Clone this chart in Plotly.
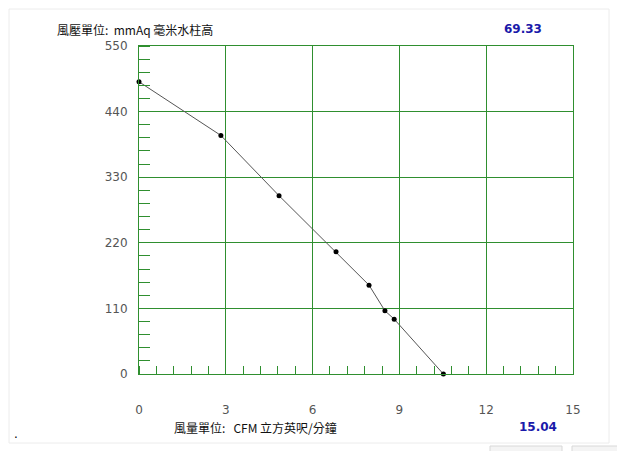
import plotly.graph_objects as go

# Data
flow_cfm = [0.0, 2.83, 4.84, 6.81, 7.95, 8.50, 8.82, 10.52]
pressure_mmaq = [490, 400, 299, 205, 149, 106, 92, 0]

x_ticks = [0, 3, 6, 9, 12, 15]
y_ticks = [0, 110, 220, 330, 440, 550]

y_title = "風壓單位:  mmAq 毫米水柱高"
x_title = "風量單位:   CFM 立方英呎/分鐘"
top_value = "69.33"
bottom_value = "15.04"

W, H = 625, 451
OFF = 8  # page body margin of the browser
# plot area in screen pixels: x 139..573, y 46..374
L, T = 139 - OFF, 46 - OFF
R = W - (573 - OFF)
B = H - (374 - OFF)
pw, ph = W - L - R, H - T - B

def px(x):
    return (x - OFF - L) / pw

def py(y):
    return (H - B - (y - OFF)) / ph

GREEN = "#2f8f2f"
cjk = "Noto Sans CJK TC"

fig = go.Figure()
fig.add_trace(go.Scatter(
    x=flow_cfm, y=pressure_mmaq, mode="lines+markers",
    line=dict(color="#555555", width=1),
    marker=dict(color="black", size=5),
    hoverinfo="skip", showlegend=False, cliponaxis=False,
))

fig.update_xaxes(
    range=[0, 15], tickvals=x_ticks, ticks="", showgrid=True,
    gridcolor=GREEN, gridwidth=1, showline=True, linecolor=GREEN,
    linewidth=1, mirror=True, zeroline=False,
    tickfont=dict(family="DejaVu Sans", size=12, color="#555555"),
    ticklabelstandoff=25,
    minor=dict(dtick=0.6, ticks="inside", ticklen=8, tickcolor=GREEN,
               tickwidth=1, showgrid=False),
)
fig.update_yaxes(
    range=[0, 550], tickvals=y_ticks, ticks="", showgrid=True,
    gridcolor=GREEN, gridwidth=1, showline=True, linecolor=GREEN,
    linewidth=1, mirror=True, zeroline=False,
    tickfont=dict(family="DejaVu Sans", size=12, color="#555555"),
    ticklabelstandoff=8,
    minor=dict(dtick=22, ticks="inside", ticklen=11, tickcolor=GREEN,
               tickwidth=1, showgrid=False),
)

annotations = [
    dict(text=y_title, x=px(55), y=py(29), xanchor="left", yanchor="middle",
         font=dict(family=cjk, size=12, color="#111111")),
    dict(text=x_title, x=px(172), y=py(427), xanchor="left", yanchor="middle",
         font=dict(family=cjk, size=12, color="#111111")),
    dict(text="<b>" + top_value + "</b>", x=px(523), y=py(29), xanchor="center",
         yanchor="middle", font=dict(family="DejaVu Sans", size=12, color="#1a1aaa")),
    dict(text="<b>" + bottom_value + "</b>", x=px(538), y=py(427), xanchor="center",
         yanchor="middle", font=dict(family="DejaVu Sans", size=12, color="#1a1aaa")),
    dict(text=".", x=px(12), y=py(434), xanchor="left", yanchor="middle",
         font=dict(family="DejaVu Sans", size=12, color="#000000")),
]
for a in annotations:
    a.update(xref="paper", yref="paper", showarrow=False)

shapes = [
    dict(type="rect", xref="paper", yref="paper", x0=px(9), x1=px(609),
         y0=py(443), y1=py(9), line=dict(color="#ececec", width=1),
         layer="below"),
    dict(type="rect", xref="paper", yref="paper", x0=px(490), x1=px(562),
         y0=py(452), y1=py(446), line=dict(color="#d8d8d8", width=1),
         fillcolor="#f4f4f4", layer="below"),
    dict(type="rect", xref="paper", yref="paper", x0=px(572), x1=px(618),
         y0=py(452), y1=py(446), line=dict(color="#d8d8d8", width=1),
         fillcolor="#f4f4f4", layer="below"),
]

fig.update_layout(
    width=W, height=H,
    margin=dict(l=L, r=R, t=T, b=B, pad=0),
    paper_bgcolor="white", plot_bgcolor="white",
    annotations=annotations, shapes=shapes,
    showlegend=False,
)

fig.write_html("out.html")
